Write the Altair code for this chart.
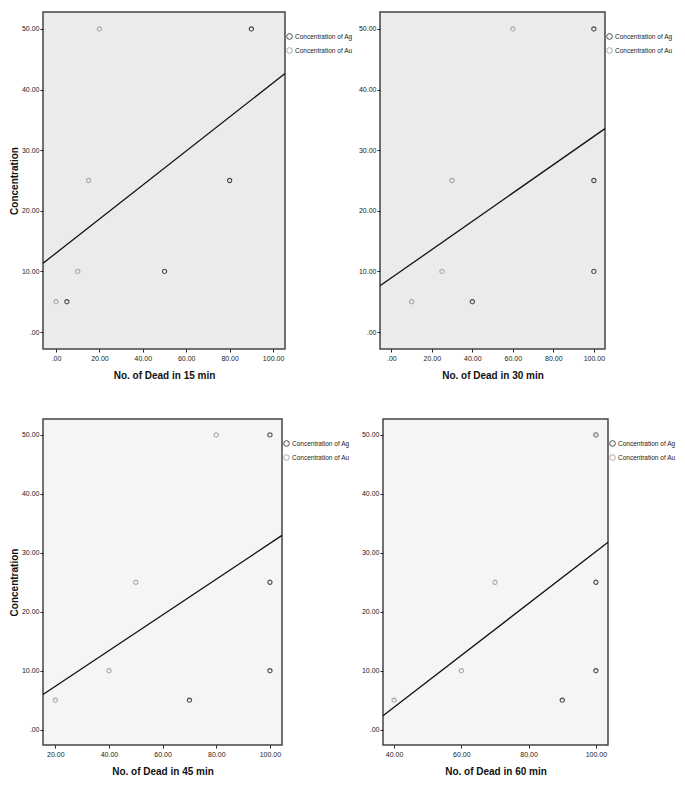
import altair as alt
import pandas as pd

# ---- data ----
series_names = ["Concentration of Ag", "Concentration of Au"]
concentration = [5, 10, 25, 50]

ag_15 = [5, 50, 80, 90]
au_15 = [0, 10, 15, 20]
ag_30 = [40, 100, 100, 100]
au_30 = [10, 25, 30, 60]
ag_45 = [70, 100, 100, 100]
au_45 = [20, 40, 50, 80]
ag_60 = [90, 100, 100, 100]
au_60 = [40, 60, 70, 100]

ticks_15 = [0, 20, 40, 60, 80, 100]
ticks_30 = [0, 20, 40, 60, 80, 100]
ticks_45 = [20, 40, 60, 80, 100]
ticks_60 = [40, 50, 60, 70, 80, 90, 100]
y_ticks = [0, 10, 20, 30, 40, 50]

rows = []
for key, ag, au in [("15", ag_15, au_15), ("30", ag_30, au_30),
                    ("45", ag_45, au_45), ("60", ag_60, au_60)]:
    for c, a in zip(concentration, ag):
        rows.append({"panel": key, "dead": a, "conc": c, "series": series_names[0]})
    for c, a in zip(concentration, au):
        rows.append({"panel": key, "dead": a, "conc": c, "series": series_names[1]})
df = pd.DataFrame(rows)

FONT = "Liberation Sans"
label_expr = "datum.value == 0 ? '.00' : format(datum.value, '.2f')"


def panel(key, xdom, ydom, xticks, w, h, fill, ytitle):
    d = df[df["panel"] == key]
    base = alt.Chart(d)
    yaxis_kwargs = dict(values=y_ticks, labelExpr=label_expr)
    if ytitle:
        yaxis_kwargs["title"] = ytitle
    else:
        yaxis_kwargs["title"] = None
    pts = base.mark_point(filled=False, size=18, strokeWidth=1.1, opacity=1).encode(
        x=alt.X("dead:Q",
                scale=alt.Scale(domain=xdom, nice=False, zero=False),
                axis=alt.Axis(values=xticks, labelExpr=label_expr,
                              title=f"No. of Dead in {key} min")),
        y=alt.Y("conc:Q",
                scale=alt.Scale(domain=ydom, nice=False, zero=False),
                axis=alt.Axis(**yaxis_kwargs)),
        color=alt.Color("series:N",
                        scale=alt.Scale(domain=series_names, range=["#4a4a4a", "#a8a8a8"]),
                        legend=alt.Legend(orient="none", legendX=w + 1, legendY=21,
                                          title=None, labelFontSize=6.5, labelFont=FONT,
                                          symbolSize=32, symbolStrokeWidth=1,
                                          rowPadding=3, labelOffset=2, padding=0,
                                          labelColor="#222")),
    )
    line = base.transform_regression("dead", "conc", extent=xdom).mark_line(
        color="#111", strokeWidth=1.3
    ).encode(x="dead:Q", y="conc:Q")
    return alt.layer(pts, line).properties(
        width=w, height=h,
        view=alt.ViewBackground(fill=fill, stroke="#444", strokeWidth=1.5),
    )


p15 = panel("15", [-6, 105.5], [-2.8, 52.8], ticks_15, 242, 337, "#ebebeb", "Concentration")
p30 = panel("30", [-5.6, 105.5], [-2.8, 52.8], ticks_30, 225, 337, "#ebebeb", None)
p45 = panel("45", [15.4, 104.5], [-2.6, 52.7], ticks_45, 239, 326, "#f5f5f5", "Concentration")
p60 = panel("60", [36.7, 103.6], [-2.6, 52.7], ticks_60, 225, 326, "#f5f5f5", None)

top = alt.hconcat(p15, p30, spacing=3).resolve_legend(color="independent")
bottom = alt.hconcat(p45, p60, spacing=9).resolve_legend(color="independent")

chart = alt.vconcat(top, bottom, spacing=37).resolve_legend(color="independent").properties(
    padding={"left": 0, "top": 3, "right": 0, "bottom": 0},
    background="white",
).configure_axis(
    grid=False, domain=False, tickSize=3, tickColor="#222", tickWidth=1,
    labelFont=FONT, labelFontSize=7, labelColor="#222", labelPadding=1,
    titleFont=FONT, titleFontSize=10, titleFontWeight="bold", titleColor="#111",
).configure_axisX(titlePadding=9, labelPadding=2).configure_axisY(titlePadding=2)

chart.save("out.html", embed_options={"renderer": "svg", "actions": False})
